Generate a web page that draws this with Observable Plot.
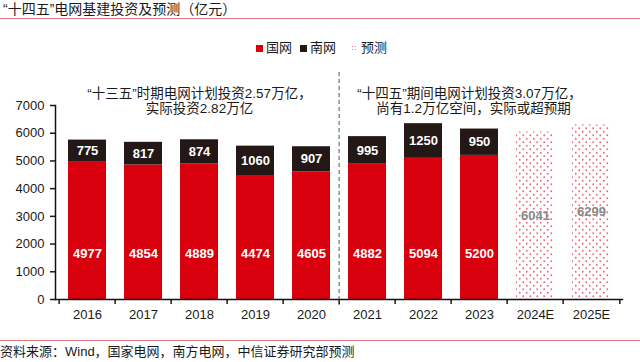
<!DOCTYPE html>
<html>
<head>
<meta charset="utf-8">
<script src="https://cdn.jsdelivr.net/npm/d3@7"></script>
<script src="https://cdn.jsdelivr.net/npm/@observablehq/plot@0.6"></script>
<style>
  html, body { margin: 0; padding: 0; background: #fff; }
  body { font-family: "Liberation Sans", Arial, "Noto Sans CJK SC", sans-serif; color: #1a1a1a; }
  #wrap { position: relative; width: 640px; height: 362px; overflow: hidden; }
  #title { position: absolute; left: 0; top: 0; width: 640px; height: 19px; font-size: 14px; line-height: 19px; padding-left: 3px; box-sizing: border-box; border-bottom: 1px solid #e27a86; }
  #legend { position: absolute; top: 40px; left: 256px; height: 16px; font-size: 13px; line-height: 16px; display: flex; align-items: center; color: #1a1a1a; }
  #legend .sw { display: inline-block; width: 7px; height: 7px; margin-right: 3px; }
  #legend .item { display: flex; align-items: center; margin-right: 8px; color: #1a1a1a; }
  #chart { position: absolute; left: 0; top: 60px; }
  #footline { position: absolute; left: 0; top: 340px; width: 640px; border-top: 1px solid #e27a86; }
  #source { position: absolute; left: 0; top: 344px; font-size: 13px; line-height: 16px; }
</style>
</head>
<body>
<svg width="0" height="0" style="position:absolute">
  <defs>
    <pattern id="dots" width="7" height="7" patternUnits="userSpaceOnUse">
      <rect width="7" height="7" fill="#fff"></rect>
      <circle cx="1.75" cy="1.75" r="0.95" fill="#e9687f"></circle>
      <circle cx="5.25" cy="5.25" r="0.95" fill="#e9687f"></circle>
    </pattern>
  </defs>
</svg>
<div id="wrap">
  <div id="title"></div>
  <div id="legend"></div>
  <div id="chart"></div>
  <div id="footline"></div>
  <div id="source"></div>
</div>
<script>
const years = ["2016","2017","2018","2019","2020","2021","2022","2023","2024E","2025E"];
const actualYears = ["2016","2017","2018","2019","2020","2021","2022","2023"];
const stateGrid = [4977,4854,4889,4474,4605,4882,5094,5200];
const southGrid = [775,817,874,1060,907,995,1250,950];
const forecastYears = ["2024E","2025E"];
const forecastValues = [6041,6299];
const yTicks = [0,1000,2000,3000,4000,5000,6000,7000];
const seriesNames = ["国网","南网","预测"];
const seriesColors = ["#d9000d","#231815","url(#dots)"];
const noteLeft = ["“十三五”时期电网计划投资2.57万亿，","实际投资2.82万亿"];
const noteRight = ["“十四五”期间电网计划投资3.07万亿，","尚有1.2万亿空间，实际或超预期"];
const titleText = "“十四五”电网基建投资及预测（亿元）";
const sourceText = "资料来源：Wind，国家电网，南方电网，中信证券研究部预测";

document.getElementById("title").textContent = titleText;
document.getElementById("source").textContent = sourceText;

// legend
const legend = document.getElementById("legend");
seriesNames.forEach((name, i) => {
  const item = document.createElement("span");
  item.className = "item";
  const sw = document.createElement("span");
  sw.className = "sw";
  if (i === 2) {
    sw.style.backgroundImage = "radial-gradient(circle, #ec7d91 0.6px, transparent 0.9px)";
    sw.style.backgroundSize = "3px 3px";
    item.style.marginLeft = "7px";
  } else {
    sw.style.background = seriesColors[i];
  }
  item.appendChild(sw);
  const t = document.createElement("span");
  t.textContent = name;
  t.style.color = "#1a1a1a";
  item.appendChild(t);
  legend.appendChild(item);
});

// data rows
const rows = [];
actualYears.forEach((y, i) => {
  rows.push({year: y, series: "国网", value: stateGrid[i]});
  rows.push({year: y, series: "南网", value: southGrid[i]});
});
forecastYears.forEach((y, i) => rows.push({year: y, series: "预测", value: forecastValues[i]}));
const actual = actualYears.map((y, i) => ({year: y, gw: stateGrid[i], nw: southGrid[i]}));
const fc = forecastYears.map((y, i) => ({year: y, v: forecastValues[i]}));

const W = 640, mL = 55, mR = 18;
const step = (W - mL - mR) / years.length;

const plot = Plot.plot({
  width: W,
  height: 264,
  marginTop: 45,
  marginBottom: 25,
  marginLeft: mL,
  marginRight: mR,
  style: {fontFamily: '"Liberation Sans", Arial, "Noto Sans CJK SC", sans-serif', fontSize: "13px", color: "#1a1a1a", overflow: "visible", background: "transparent"},
  x: {domain: years, paddingInner: 0.33, paddingOuter: 0.165, label: null},
  y: {domain: [0, 7000], label: null},
  color: {domain: seriesNames, range: seriesColors},
  marks: [
    Plot.barY(rows, {x: "year", y: "value", fill: "series", order: seriesNames}),
    Plot.text(actual, {x: "year", text: d => String(d.gw), frameAnchor: "bottom", dy: -42, fill: "white", fontWeight: "bold", fontSize: 13}),
    Plot.text(actual, {x: "year", y: d => d.gw + d.nw / 2, text: d => String(d.nw), fill: "white", fontWeight: "bold", fontSize: 13}),
    Plot.text(fc, {x: "year", y: d => d.v / 2, text: d => String(d.v), fill: "#8a8a8a", fontWeight: "bold", fontSize: 13}),
    Plot.ruleX(["2021"], {x: d => d, dx: -step / 2, insetTop: -33, insetBottom: -6, stroke: "#8c8c8c", strokeWidth: 1.5, strokeDasharray: "4,3"}),
    Plot.axisY({ticks: yTicks, tickFormat: d => String(d), tickSize: 5, tickPadding: 6, label: null, fontSize: 13, strokeWidth: 1.5}),
    Plot.axisX({tickSize: 0, tickPadding: 10, label: null, fontSize: 13}),
    Plot.axisX({ticks: years, tickSize: 5, tickFormat: () => "", dx: -step / 2, label: null, strokeWidth: 1.5}),
    Plot.axisX({ticks: ["2025E"], tickSize: 5, tickFormat: () => "", dx: step / 2, label: null, strokeWidth: 1.5}),
    Plot.frame({anchor: "left", stroke: "#111", strokeWidth: 1.5}),
    Plot.frame({anchor: "bottom", stroke: "#111", strokeWidth: 1.5}),
    Plot.text([noteLeft[0]], {x: () => "2018", text: d => d, frameAnchor: "top", dy: -17, fontSize: 13.5}),
    Plot.text([noteLeft[1]], {x: () => "2018", text: d => d, frameAnchor: "top", dy: -2, fontSize: 13.5}),
    Plot.text([noteRight[0]], {x: () => "2023", text: d => d, frameAnchor: "top", dy: -17, dx: -10, fontSize: 13.5}),
    Plot.text([noteRight[1]], {x: () => "2023", text: d => d, frameAnchor: "top", dy: -2, dx: -6, fontSize: 13.5})
  ]
});
document.getElementById("chart").appendChild(plot);
</script>
</body>
</html>
